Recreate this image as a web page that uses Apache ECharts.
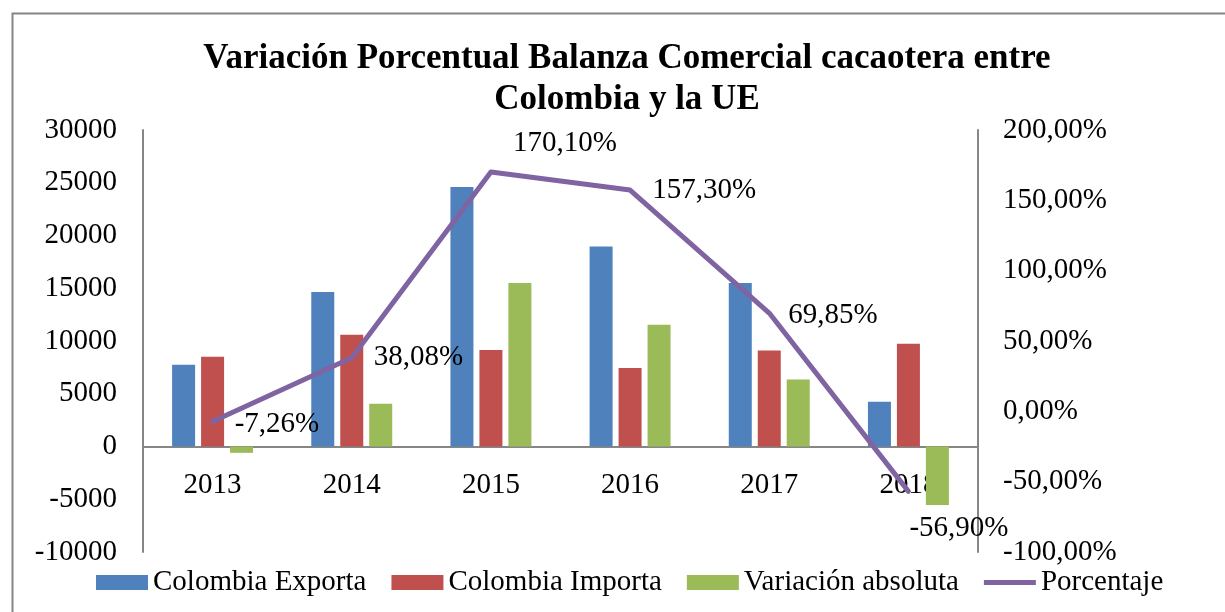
<!DOCTYPE html>
<html>
<head>
<meta charset="utf-8">
<script src="https://cdn.jsdelivr.net/npm/echarts@6/dist/echarts.min.js"></script>
<style>
  html, body { margin: 0; padding: 0; background: #fff; }
  #chart { width: 1225px; height: 612px; }
</style>
</head>
<body>
<div id="chart"></div>
<script>
const years = ['2013', '2014', '2015', '2016', '2017', '2018']
const exporta = [7750, 14650, 24600, 18950, 15500, 4250]
const importa = [8500, 10600, 9150, 7450, 9100, 9750]
const variacion = [-600, 4050, 15500, 11550, 6350, -5550]
const porcentaje = [-7.26, 38.08, 170.10, 157.30, 69.85, -56.90]

// offsets of the percentage labels [dx, dy]
const labelOffsets = [[0, 3], [0, 0], [0, -29], [0, 0], [-3, 2], [-21, 37]]

const serif = '"Liberation Serif", "Times New Roman", serif'
const pctFmt = v => v.toFixed(2).replace('.', ',') + '%'

const chart = echarts.init(document.getElementById('chart'))
chart.setOption({
  backgroundColor: '#fff',
  animation: false,
  textStyle: { fontFamily: serif, color: '#000' },
  graphic: [{
    type: 'rect',
    shape: { x: 12.5, y: 13.5, width: 1300, height: 700 },
    style: { fill: 'none', stroke: '#868686', lineWidth: 2 }
  }],
  title: {
    text: 'Variación Porcentual Balanza Comercial cacaotera entre\nColombia y la UE',
    left: 622,
    top: 33,
    textAlign: 'center',
    textStyle: {
      fontFamily: serif,
      fontWeight: 'bold',
      fontSize: 35,
      lineHeight: 41,
      color: '#000'
    }
  },
  legend: {
    left: 91,
    top: 563,
    icon: 'rect',
    itemWidth: 52,
    itemHeight: 15,
    itemGap: 25,
    textStyle: { fontFamily: serif, fontSize: 29, color: '#000' },
    data: [
      'Colombia Exporta',
      'Colombia Importa',
      'Variación absoluta',
      { name: 'Porcentaje', icon: 'path://M0,0 L52,0 L52,5 L0,5 Z' }
    ]
  },
  grid: {
    left: 143,
    right: 247,
    top: 130,
    bottom: 60
  },
  xAxis: [{
    type: 'category',
    data: years,
    offset: -105.5,
    axisLine: { onZero: false, lineStyle: { color: '#868686', width: 2 } },
    axisTick: { show: false },
    axisLabel: { fontFamily: serif, fontSize: 29, color: '#000', margin: 24 },
    splitLine: { show: false }
  }],
  yAxis: [{
    type: 'value',
    min: -10000,
    max: 30000,
    interval: 5000,
    axisLine: { show: true, onZero: false, lineStyle: { color: '#868686', width: 2 } },
    axisTick: { show: false },
    axisLabel: {
      fontFamily: serif,
      fontSize: 29,
      color: '#000',
      margin: 26,
      formatter: v => String(v)
    },
    splitLine: { show: false }
  }, {
    type: 'value',
    min: -100,
    max: 200,
    interval: 50,
    position: 'right',
    axisLine: { show: true, onZero: false, lineStyle: { color: '#868686', width: 2 } },
    axisTick: { show: false },
    axisLabel: {
      fontFamily: serif,
      fontSize: 29,
      color: '#000',
      margin: 25,
      formatter: pctFmt
    },
    splitLine: { show: false }
  }],
  series: [{
    name: 'Colombia Exporta',
    type: 'bar',
    barWidth: 23,
    barGap: '26%',
    itemStyle: { color: '#4F81BD' },
    data: exporta
  }, {
    name: 'Colombia Importa',
    type: 'bar',
    barWidth: 23,
    barGap: '26%',
    itemStyle: { color: '#C0504D' },
    data: importa
  }, {
    name: 'Variación absoluta',
    type: 'bar',
    barWidth: 23,
    barGap: '26%',
    itemStyle: { color: '#9BBB59' },
    data: variacion
  }, {
    name: 'Porcentaje',
    type: 'line',
    yAxisIndex: 1,
    symbol: 'circle',
    symbolSize: 0.1,
    showSymbol: true,
    lineStyle: { color: '#8064A2', width: 5, cap: 'round', join: 'round' },
    itemStyle: { color: '#8064A2' },
    label: {
      show: true,
      position: 'right',
      distance: 22,
      fontFamily: serif,
      fontSize: 29,
      color: '#000',
      formatter: p => pctFmt(p.value)
    },
    data: porcentaje.map((v, i) => ({
      value: v,
      label: { offset: labelOffsets[i] }
    }))
  }]
})
</script>
</body>
</html>
